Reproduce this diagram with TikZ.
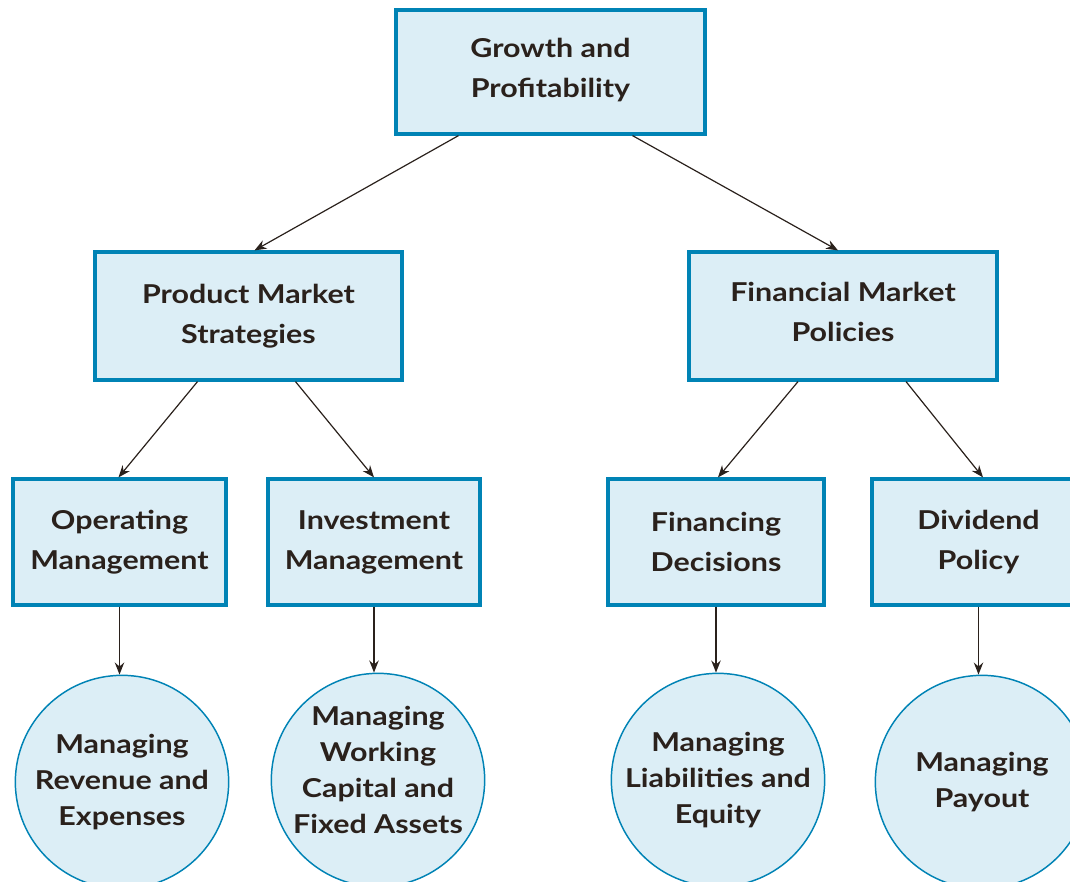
\documentclass[tikz,border=0pt]{standalone}
\usepackage{fontspec}
\setmainfont{Lato}[FakeStretch=1.17]
\usetikzlibrary{arrows.meta,calc}
\definecolor{boxfill}{HTML}{DCEEF6}
\definecolor{boxline}{HTML}{0083B5}
\definecolor{arr}{HTML}{2A211C}
\tikzset{
  box/.style={draw=boxline,line width=2.4pt,fill=boxfill,minimum width=#1,align=center,
     font=\fontsize{19.5}{30}\selectfont\bfseries,text=arr,inner sep=0pt},
  box/.default={230pt},
  circ/.style={circle,draw=boxline,line width=1.1pt,fill=boxfill,minimum size=160pt,align=center,
     font=\fontsize{19.5}{27}\selectfont\bfseries,text=arr,inner sep=-30pt},
  conn/.style={draw=arr,line width=0.9pt,-{Stealth[length=9pt,width=7pt]}},
  vconn/.style={draw=arr,line width=1.4pt,-{Stealth[length=9pt,width=7pt]}}
}
\begin{document}
\begin{tikzpicture}[x=0.75pt,y=-0.75pt]
\useasboundingbox (0,0) rectangle (1070,881);
\begin{scope}
\clip (0,0) rectangle (1070,881);
\node[box=231.75pt,minimum height=93pt] (top) at (550.5,72) {Growth and\\Profitability\\[-24pt]};
\node[box=230.25pt,minimum height=96pt] (pm) at (248.5,316) {Product Market\\Strategies};
\node[box=231pt,minimum height=96pt] (fm) at (843,316) {Financial Market\\Policies\\[-24pt]};
\node[box=159.75pt,minimum height=94.5pt] (op) at (119.5,542) {Operating\\Management};
\node[box=159pt,minimum height=94.5pt] (inv) at (374,542) {Investment\\Management};
\node[box=162pt,minimum height=94.5pt] (fin) at (716,542) {Financing\\Decisions};
\node[box=159.75pt,minimum height=94.5pt] (div) at (978.5,542) {Dividend\\Policy};
\node[circ] (c1) at (122,782) {Managing\\Revenue and\\Expenses};
\node[circ] (c2) at (378,780) {Managing\\Working\\Capital and\\Fixed Assets\\[-12pt]};
\node[circ] (c3) at (718,780) {Managing\\Liabilities and\\Equity};
\node[circ] (c4) at (982,782) {Managing\\Payout};
\draw[conn] ($(top.south)+(-92,0)$) -- ($(pm.north)+(6,0)$);
\draw[conn] ($(top.south)+(82,0)$) -- ($(fm.north)+(-5,0)$);
\draw[conn] ($(pm.south)+(-51,0)$) -- ($(op.north)+(-1,0)$);
\draw[conn] ($(pm.south)+(47,0)$) -- ($(inv.north)+(0,0)$);
\draw[conn] ($(fm.south)+(-45,0)$) -- ($(fin.north)+(2,0)$);
\draw[conn] ($(fm.south)+(63,0)$) -- ($(div.north)+(4.5,0)$);
\draw[vconn] (op.south) -- (op.south |- c1.north);
\draw[vconn] (inv.south) -- (inv.south |- c2.north);
\draw[vconn] (fin.south) -- (fin.south |- c3.north);
\draw[vconn] (div.south) -- (div.south |- c4.north);
\end{scope}
\end{tikzpicture}
\end{document}
